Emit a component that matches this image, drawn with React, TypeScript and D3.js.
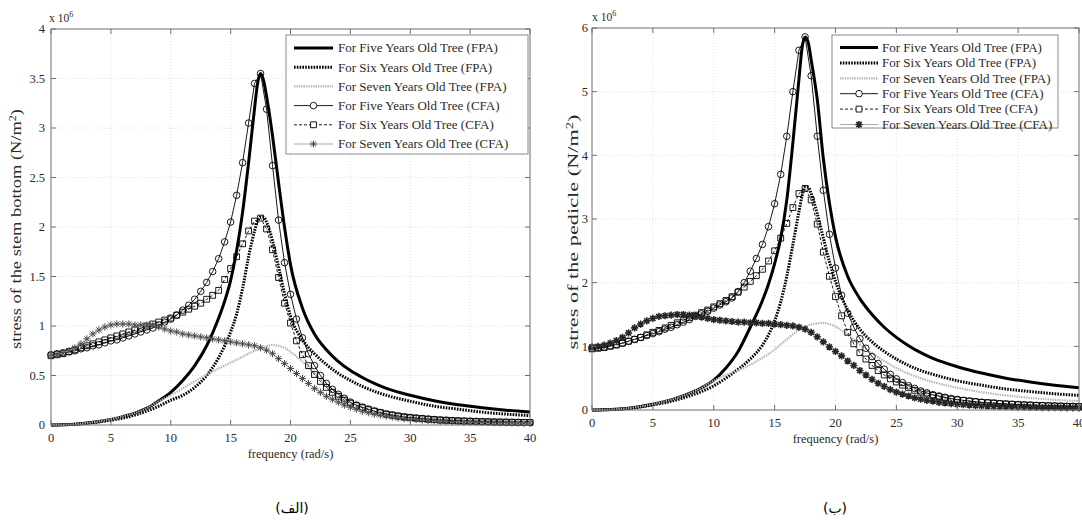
import React from "react";
import * as d3 from "d3";

// ---------- data (stress values in units of 1e6 N/m^2) ----------
const FREQ_FPA = [0, 1, 2, 3, 4, 5, 6, 7, 8, 9, 10, 11, 12, 13, 14, 14.5, 15, 15.5, 16, 16.5, 17, 17.25, 17.5, 17.75, 18, 18.5, 19, 19.5, 20, 21, 22, 23, 24, 25, 26, 27, 28, 30, 32, 34, 36, 38, 40];
const FREQ_CFA = d3.range(0, 40.001, 0.5);
const X_TICKS = [0, 5, 10, 15, 20, 25, 30, 35, 40];
const LEFT_Y_TICKS = [0, 0.5, 1, 1.5, 2, 2.5, 3, 3.5, 4];
const RIGHT_Y_TICKS = [0, 1, 2, 3, 4, 5, 6];
const LEGEND_LABELS = [
  "For Five Years Old Tree (FPA)",
  "For Six Years Old Tree (FPA)",
  "For Seven Years Old Tree (FPA)",
  "For Five Years Old Tree (CFA)",
  "For Six Years Old Tree (CFA)",
  "For Seven Years Old Tree (CFA)",
];

// Left panel: stress of the stem bottom
const L_FPA5 = [0, 0.002, 0.008, 0.02, 0.036, 0.057, 0.085, 0.12, 0.17, 0.245, 0.33, 0.45, 0.6, 0.8, 1.08, 1.25, 1.46, 1.76, 2.15, 2.65, 3.2, 3.45, 3.55, 3.48, 3.32, 2.92, 2.45, 2.0, 1.62, 1.18, 0.92, 0.76, 0.64, 0.55, 0.48, 0.42, 0.37, 0.3, 0.245, 0.205, 0.175, 0.15, 0.13];
const L_FPA6 = [0, 0.002, 0.007, 0.017, 0.031, 0.048, 0.07, 0.1, 0.14, 0.19, 0.25, 0.3, 0.38, 0.5, 0.68, 0.8, 0.94, 1.12, 1.38, 1.7, 1.96, 2.06, 2.1, 2.1, 2.05, 1.86, 1.6, 1.33, 1.1, 0.86, 0.72, 0.61, 0.52, 0.45, 0.39, 0.34, 0.3, 0.24, 0.19, 0.16, 0.13, 0.11, 0.095];
const L_FPA7 = [0, 0.002, 0.008, 0.02, 0.036, 0.057, 0.085, 0.12, 0.17, 0.24, 0.3, 0.37, 0.44, 0.51, 0.57, 0.6, 0.63, 0.66, 0.69, 0.72, 0.75, 0.76, 0.775, 0.785, 0.795, 0.81, 0.8, 0.78, 0.74, 0.64, 0.52, 0.41, 0.32, 0.26, 0.21, 0.17, 0.14, 0.1, 0.075, 0.058, 0.046, 0.038, 0.032];
const L_CFA5 = [
  0.71, 0.72, 0.73, 0.74, 0.75, 0.77, 0.78, 0.8, 0.81, 0.83,
  0.85, 0.86, 0.88, 0.9, 0.92, 0.94, 0.96, 0.98, 1.01, 1.04,
  1.07, 1.11, 1.16, 1.21, 1.27, 1.35, 1.44, 1.55, 1.68, 1.85,
  2.05, 2.32, 2.65, 3.05, 3.45, 3.55, 3.19, 2.62, 2.07, 1.64,
  1.32, 1.07, 0.88, 0.72, 0.6, 0.5, 0.42, 0.36, 0.31, 0.27,
  0.23, 0.2, 0.18, 0.16, 0.14, 0.125, 0.11, 0.1, 0.09, 0.08,
  0.075, 0.07, 0.065, 0.06, 0.055, 0.05, 0.048, 0.045, 0.042, 0.04,
  0.038, 0.036, 0.034, 0.032, 0.03, 0.029, 0.028, 0.027, 0.026, 0.025,
  0.024,
];
const L_CFA6 = [
  0.7, 0.71, 0.72, 0.74, 0.76, 0.78, 0.8, 0.82, 0.84, 0.86,
  0.88, 0.9, 0.92, 0.94, 0.96, 0.98, 1.0, 1.02, 1.04, 1.06,
  1.08, 1.11, 1.14, 1.17, 1.2, 1.23, 1.27, 1.31, 1.36, 1.47,
  1.58, 1.7, 1.83, 1.96, 2.06, 2.09, 1.98, 1.77, 1.49, 1.23,
  1.03, 0.85, 0.71, 0.6, 0.51, 0.44, 0.38, 0.33, 0.29, 0.25,
  0.22, 0.195, 0.175, 0.155, 0.14, 0.125, 0.11, 0.1, 0.09, 0.082,
  0.075, 0.069, 0.064, 0.059, 0.055, 0.051, 0.048, 0.045, 0.042, 0.04,
  0.038, 0.036, 0.034, 0.032, 0.031, 0.03, 0.029, 0.028, 0.027, 0.026,
  0.025,
];
const L_CFA7 = [
  0.7, 0.71, 0.73, 0.75, 0.78, 0.82, 0.87, 0.92, 0.96, 0.99,
  1.01, 1.02, 1.02, 1.02, 1.01, 1.01, 1.01, 1.01, 0.99, 0.97,
  0.95, 0.94, 0.92, 0.91, 0.9, 0.89, 0.88, 0.87, 0.86, 0.85,
  0.84, 0.83, 0.82, 0.81, 0.8, 0.78, 0.755, 0.72, 0.67, 0.62,
  0.57, 0.52, 0.47, 0.42, 0.37, 0.33, 0.29, 0.26, 0.23, 0.2,
  0.18, 0.16, 0.14, 0.125, 0.11, 0.1, 0.09, 0.08, 0.072, 0.065,
  0.06, 0.055, 0.05, 0.046, 0.043, 0.04, 0.037, 0.035, 0.033, 0.031,
  0.029, 0.028, 0.027, 0.026, 0.025, 0.024, 0.023, 0.022, 0.021, 0.02,
  0.02,
];

// Right panel: stress of the pedicle
const R_FPA5 = [0, 0.003, 0.012, 0.028, 0.055, 0.09, 0.135, 0.19, 0.26, 0.35, 0.47, 0.66, 0.92, 1.3, 1.72, 1.98, 2.3, 2.7, 3.3, 4.2, 5.2, 5.68, 5.86, 5.78, 5.5, 4.88, 3.95, 3.25, 2.72, 2.1, 1.75, 1.5, 1.3, 1.14, 1.01, 0.9, 0.81, 0.68, 0.58, 0.5, 0.44, 0.39, 0.35];
const R_FPA6 = [0, 0.003, 0.011, 0.025, 0.048, 0.08, 0.115, 0.16, 0.22, 0.29, 0.38, 0.5, 0.64, 0.8, 1.02, 1.18, 1.4, 1.7, 2.1, 2.6, 3.12, 3.36, 3.5, 3.5, 3.4, 3.08, 2.7, 2.33, 2.02, 1.57, 1.27, 1.07, 0.92, 0.8, 0.7, 0.62, 0.56, 0.46, 0.39, 0.33, 0.29, 0.255, 0.23];
const R_FPA7 = [0, 0.003, 0.012, 0.028, 0.055, 0.09, 0.135, 0.19, 0.26, 0.35, 0.46, 0.55, 0.62, 0.71, 0.82, 0.88, 0.95, 1.03, 1.11, 1.19, 1.26, 1.29, 1.31, 1.33, 1.345, 1.36, 1.37, 1.35, 1.31, 1.18, 1.03, 0.89, 0.77, 0.66, 0.57, 0.5, 0.44, 0.35, 0.28, 0.23, 0.19, 0.16, 0.14];
const R_CFA5 = [
  0.97, 0.98, 0.99, 1.01, 1.03, 1.05, 1.08, 1.11, 1.14, 1.17,
  1.2, 1.23, 1.27, 1.3, 1.34, 1.38, 1.42, 1.47, 1.51, 1.55,
  1.6, 1.65, 1.7, 1.76, 1.86, 2.0, 2.18, 2.38, 2.6, 2.88,
  3.24, 3.7, 4.3, 5.0, 5.65, 5.86, 5.25, 4.3, 3.45, 2.76,
  2.23, 1.8, 1.52, 1.3, 1.12, 0.97, 0.84, 0.73, 0.64, 0.56,
  0.49, 0.43, 0.38, 0.34, 0.3, 0.27, 0.24, 0.22, 0.2, 0.18,
  0.165, 0.152, 0.14, 0.13, 0.121, 0.113, 0.106, 0.1, 0.094, 0.089,
  0.084, 0.08, 0.076, 0.072, 0.069, 0.066, 0.063, 0.06, 0.058, 0.056,
  0.054,
];
const R_CFA6 = [
  0.96, 0.97, 0.98, 1.0, 1.02, 1.05, 1.08, 1.11, 1.14, 1.18,
  1.22, 1.25, 1.29, 1.33, 1.37, 1.41, 1.45, 1.49, 1.53, 1.57,
  1.62, 1.67, 1.72, 1.78, 1.85, 1.93, 2.02, 2.11, 2.21, 2.34,
  2.5, 2.7, 2.93, 3.18, 3.4, 3.48, 3.3, 2.92, 2.48, 2.1,
  1.78, 1.48, 1.22, 1.04, 0.9, 0.8, 0.7, 0.62, 0.55, 0.49,
  0.44, 0.39, 0.35, 0.31, 0.28, 0.25, 0.23, 0.21, 0.19, 0.17,
  0.16, 0.15, 0.14, 0.13, 0.12, 0.115, 0.11, 0.1, 0.095, 0.09,
  0.085, 0.08, 0.077, 0.073, 0.07, 0.067, 0.064, 0.061, 0.058, 0.056,
  0.054,
];
const R_CFA7 = [
  0.99, 1.0, 1.02, 1.05, 1.09, 1.14, 1.21, 1.29, 1.35, 1.4,
  1.44, 1.47, 1.48, 1.49, 1.5, 1.5, 1.49, 1.48, 1.46, 1.44,
  1.42, 1.41, 1.4, 1.39, 1.38, 1.38, 1.37, 1.37, 1.36, 1.36,
  1.35, 1.34, 1.33, 1.32, 1.3, 1.27, 1.22, 1.15, 1.07, 0.99,
  0.92, 0.85, 0.77, 0.7, 0.62, 0.55, 0.48, 0.42, 0.37, 0.32,
  0.28, 0.25, 0.22, 0.19, 0.17, 0.15, 0.14, 0.12, 0.11, 0.1,
  0.09, 0.083, 0.077, 0.071, 0.066, 0.062, 0.058, 0.054, 0.051, 0.048,
  0.046, 0.044, 0.042, 0.04, 0.038, 0.037, 0.036, 0.035, 0.034, 0.033,
  0.032,
];

// ---------- styling ----------
const SERIF = "Liberation Serif, Times New Roman, serif";
const AXIS_COLOR = "#6e6e6e";
const TEXT_COLOR = "#2a2a2a";
const GRID_COLOR = "#d6d6d6";
const FPA7_COLOR = "#b4b4b4";
const CFA7_LINE = "#a8a8a8";

const STYLES = {
  fpa5: { stroke: "#000", width: 3, dash: undefined as string | undefined },
  fpa6: { stroke: "#000", width: 3, dash: "1.6 1.2" },
  fpa7: { stroke: FPA7_COLOR, width: 2.2, dash: "1.4 1" },
  cfa5: { stroke: "#000", width: 0.9, dash: undefined as string | undefined },
  cfa6: { stroke: "#000", width: 0.9, dash: "3 2" },
  cfa7: { stroke: CFA7_LINE, width: 1, dash: undefined as string | undefined },
};

function starPath(r: number) {
  const a = r * 0.72;
  return `M0,${-r}L0,${r}M${-r},0L${r},0M${-a},${-a}L${a},${a}M${-a},${a}L${a},${-a}`;
}
const squarePath = d3.symbol().type(d3.symbolSquare).size(34)() as string;

type Cfg = {
  xL: number; xR: number; yB: number; yT: number; yMax: number;
  yTicks: number[]; yFmt: (v: number) => string;
  xTickY: number; xLabelY: number; yTickX: number;
  yLabelX: number; yLabelCY: number; yLabel: string; yLabelLen: number;
  expX: number; expY: number;
  leg: { x: number; y: number; w: number; h: number; row0: number; dy: number; l0: number; l1: number; tx: number };
  caption: string; capX: number; capY: number;
  fpa5: number[]; fpa6: number[]; fpa7: number[];
  cfa5: number[]; cfa6: number[]; cfa7: number[];
  starW: number; starColor: string;
};

function Panel({ c }: { c: Cfg }) {
  const xs = d3.scaleLinear().domain([0, 40]).range([c.xL, c.xR]);
  const ys = d3.scaleLinear().domain([0, c.yMax]).range([c.yB, c.yT]);
  const fpaLine = d3.line<number>().x((_, i) => xs(FREQ_FPA[i])).y((d) => ys(d)).curve(d3.curveMonotoneX);
  const cfaLine = d3.line<number>().x((_, i) => xs(FREQ_CFA[i])).y((d) => ys(d));
  const tk = 5;

  const fpaSeries = [
    { d: c.fpa5, s: STYLES.fpa5 },
    { d: c.fpa6, s: STYLES.fpa6 },
    { d: c.fpa7, s: STYLES.fpa7 },
  ];

  return (
    <g>
      {/* grid */}
      {X_TICKS.slice(1, -1).map((t) => (
        <line key={"gx" + t} x1={xs(t)} x2={xs(t)} y1={c.yT} y2={c.yB} stroke={GRID_COLOR} strokeWidth={0.8} strokeDasharray="1 2" />
      ))}
      {c.yTicks.slice(1, -1).map((t) => (
        <line key={"gy" + t} x1={c.xL} x2={c.xR} y1={ys(t)} y2={ys(t)} stroke={GRID_COLOR} strokeWidth={0.8} strokeDasharray="1 2" />
      ))}

      {/* FPA lines */}
      {fpaSeries.map((f, i) => (
        <path key={"fpa" + i} d={fpaLine(f.d) as string} fill="none" stroke={f.s.stroke} strokeWidth={f.s.width} strokeDasharray={f.s.dash} />
      ))}

      {/* CFA five: circles */}
      <path d={cfaLine(c.cfa5) as string} fill="none" stroke={STYLES.cfa5.stroke} strokeWidth={STYLES.cfa5.width} />
      {c.cfa5.map((v, i) => (
        <circle key={"c5" + i} cx={xs(FREQ_CFA[i])} cy={ys(v)} r={3.3} fill="none" stroke="#000" strokeWidth={0.9} />
      ))}
      {/* CFA six: squares */}
      <path d={cfaLine(c.cfa6) as string} fill="none" stroke={STYLES.cfa6.stroke} strokeWidth={STYLES.cfa6.width} strokeDasharray={STYLES.cfa6.dash} />
      {c.cfa6.map((v, i) => (
        <path key={"c6" + i} d={squarePath} transform={`translate(${xs(FREQ_CFA[i])},${ys(v)})`} fill="none" stroke="#000" strokeWidth={0.9} />
      ))}
      {/* CFA seven: stars */}
      <path d={cfaLine(c.cfa7) as string} fill="none" stroke={STYLES.cfa7.stroke} strokeWidth={STYLES.cfa7.width} />
      {c.cfa7.map((v, i) => (
        <path key={"c7" + i} d={starPath(3.6)} transform={`translate(${xs(FREQ_CFA[i])},${ys(v)})`} fill="none" stroke={c.starColor} strokeWidth={c.starW} />
      ))}

      {/* axes box */}
      <rect x={c.xL} y={c.yT} width={c.xR - c.xL} height={c.yB - c.yT} fill="none" stroke={AXIS_COLOR} strokeWidth={1} />
      {X_TICKS.map((t) => (
        <g key={"xt" + t}>
          <line x1={xs(t)} x2={xs(t)} y1={c.yB} y2={c.yB - tk} stroke={AXIS_COLOR} />
          <line x1={xs(t)} x2={xs(t)} y1={c.yT} y2={c.yT + tk} stroke={AXIS_COLOR} />
          <text x={xs(t)} y={c.xTickY} textAnchor="middle" fontFamily={SERIF} fontSize={12.5} fill={TEXT_COLOR}>{t}</text>
        </g>
      ))}
      {c.yTicks.map((t) => (
        <g key={"yt" + t}>
          <line x1={c.xL} x2={c.xL + tk} y1={ys(t)} y2={ys(t)} stroke={AXIS_COLOR} />
          <line x1={c.xR} x2={c.xR - tk} y1={ys(t)} y2={ys(t)} stroke={AXIS_COLOR} />
          <text x={c.yTickX} y={ys(t) + 4.3} textAnchor="end" fontFamily={SERIF} fontSize={12.5} fill={TEXT_COLOR}>{c.yFmt(t)}</text>
        </g>
      ))}

      {/* exponent */}
      <text x={c.expX} y={c.expY} fontFamily={SERIF} fontSize={11.5} fill={TEXT_COLOR}>
        x 10<tspan dy={-5} fontSize={8}>6</tspan>
      </text>

      {/* axis labels */}
      <text x={(c.xL + c.xR) / 2} y={c.xLabelY} textAnchor="middle" fontFamily={SERIF} fontSize={12.5} fill={TEXT_COLOR}>frequency (rad/s)</text>
      <text transform={`translate(${c.yLabelX},${c.yLabelCY}) rotate(-90)`} textAnchor="middle" fontFamily={SERIF} fontSize={14.5} fill={TEXT_COLOR}
        textLength={c.yLabelLen} lengthAdjust="spacingAndGlyphs">
        {c.yLabel}<tspan dy={-5} fontSize={9.5}>2</tspan><tspan dy={5}>)</tspan>
      </text>

      {/* legend */}
      <rect x={c.leg.x} y={c.leg.y} width={c.leg.w} height={c.leg.h} fill="#fff" stroke="#8a8a8a" strokeWidth={1} />
      {LEGEND_LABELS.map((lab, i) => {
        const y = c.leg.row0 + i * c.leg.dy;
        const mx = (c.leg.l0 + c.leg.l1) / 2;
        const st = [STYLES.fpa5, STYLES.fpa6, STYLES.fpa7, STYLES.cfa5, STYLES.cfa6, STYLES.cfa7][i];
        return (
          <g key={"lg" + i}>
            <line x1={c.leg.l0} x2={c.leg.l1} y1={y} y2={y} stroke={st.stroke} strokeWidth={st.width} strokeDasharray={st.dash} />
            {i === 3 && <circle cx={mx} cy={y} r={3.3} fill="#fff" stroke="#000" strokeWidth={0.9} />}
            {i === 4 && <path d={squarePath} transform={`translate(${mx},${y})`} fill="#fff" stroke="#000" strokeWidth={0.9} />}
            {i === 5 && <path d={starPath(3.6)} transform={`translate(${mx},${y})`} fill="none" stroke={c.starColor} strokeWidth={c.starW} />}
            <text x={c.leg.tx} y={y + 4.3} fontFamily={SERIF} fontSize={13} fill={TEXT_COLOR}>{lab}</text>
          </g>
        );
      })}

      {/* caption */}
      <text x={c.capX} y={c.capY} textAnchor="middle" fontFamily="DejaVu Sans, sans-serif" fontSize={14} fill="#000">{c.caption}</text>
    </g>
  );
}

const LEFT: Cfg = {
  xL: 51, xR: 530, yB: 425, yT: 29, yMax: 4,
  yTicks: LEFT_Y_TICKS, yFmt: (v) => String(v),
  xTickY: 442, xLabelY: 458, yTickX: 45,
  yLabelX: 21, yLabelCY: 229, yLabel: "stress of the stem bottom  (N/m", yLabelLen: 240,
  expX: 49, expY: 22,
  leg: { x: 286, y: 35, w: 242, h: 119, row0: 48, dy: 19.2, l0: 294, l1: 333, tx: 338 },
  caption: "(الف)", capX: 292, capY: 513,
  fpa5: L_FPA5, fpa6: L_FPA6, fpa7: L_FPA7, cfa5: L_CFA5, cfa6: L_CFA6, cfa7: L_CFA7,
  starW: 1, starColor: "#4a4a4a",
};

const RIGHT: Cfg = {
  xL: 592, xR: 1079, yB: 410, yT: 28, yMax: 6,
  yTicks: RIGHT_Y_TICKS, yFmt: (v) => String(v),
  xTickY: 427, xLabelY: 443, yTickX: 588,
  yLabelX: 578, yLabelCY: 232, yLabel: "stres of the pedicle (N/m", yLabelLen: 235,
  expX: 592, expY: 21,
  leg: { x: 832, y: 35, w: 226, h: 93, row0: 47.5, dy: 15.4, l0: 840, l1: 878, tx: 882 },
  caption: "(ب)", capX: 835, capY: 513,
  fpa5: R_FPA5, fpa6: R_FPA6, fpa7: R_FPA7, cfa5: R_CFA5, cfa6: R_CFA6, cfa7: R_CFA7,
  starW: 1.6, starColor: "#262626",
};

export default function App() {
  return (
    <svg width={1082} height={520} style={{ position: "absolute", left: 0, top: 0, background: "#fff" }}>
      <rect width={1082} height={520} fill="#fff" />
      <Panel c={LEFT} />
      <Panel c={RIGHT} />
    </svg>
  );
}
